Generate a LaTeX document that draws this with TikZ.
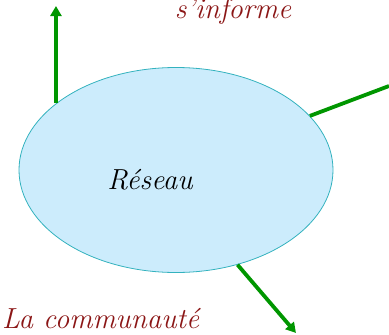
\documentclass[tikz,border=0pt]{standalone}
\usepackage{xcolor}
\usetikzlibrary{positioning, arrows.meta, shapes.geometric}
\definecolor{reseaublue}{RGB}{204, 236, 252}
\definecolor{reseauedge}{RGB}{51, 178, 190}
\definecolor{flgreen}{RGB}{0, 150, 0}
\definecolor{lblred}{RGB}{139, 22, 22}
\tikzset{
  cloud/.style={ellipse, draw=reseauedge, line width=0.8pt, fill=reseaublue,
    minimum width=314pt, minimum height=205pt, inner sep=0pt},
  flow/.style={draw=flgreen, line width=3.8pt, -{Triangle[length=10pt, width=11pt]}},
  flowplain/.style={draw=flgreen, line width=3.8pt},
  lbl/.style={text=lblred, font=\fontsize{29}{31}\selectfont\itshape, inner sep=0pt},
}
\begin{document}
\begin{tikzpicture}[x=1pt, y=-1pt]
\useasboundingbox (0,0) rectangle (389,335);

\node[cloud] (reseau) at (176,170) {};
\node[font=\fontsize{29}{31}\selectfont\itshape, inner sep=0pt] (nom) at (150,180) {Réseau};

\node[lbl, anchor=base] (info) at (233,18) {s’informe};
\node[lbl, anchor=base west] (commu) at (2,328) {La communauté};

\coordinate (haut) at (54,6);
\coordinate (droite) at (389,86);
\coordinate (bas) at (296,333);

\draw[flow] (reseau.151) -- (reseau.151 |- haut);
\draw[flowplain] (reseau.22) -- (droite);
\draw[flow] (reseau.-57) -- (bas);

\end{tikzpicture}
\end{document}
